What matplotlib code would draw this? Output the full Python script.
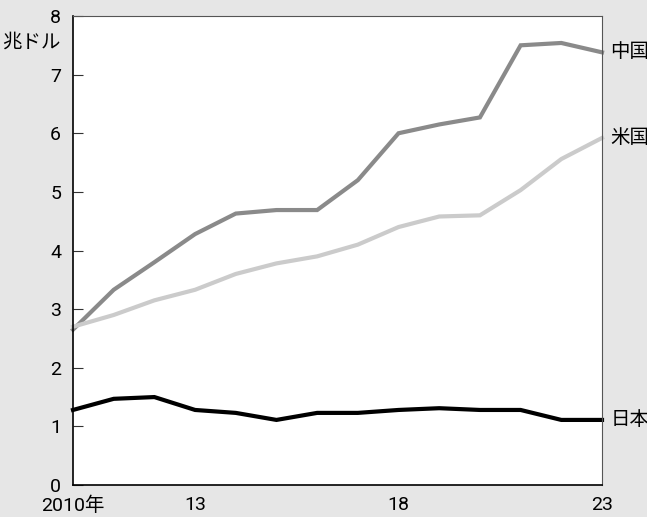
import matplotlib
matplotlib.use("Agg")
import matplotlib.pyplot as plt

plt.rcParams['font.family'] = ['Roboto', 'Noto Sans CJK JP', 'DejaVu Sans']

years = list(range(2010, 2024))
china = [2.65, 3.33, 3.80, 4.28, 4.63, 4.69, 4.69, 5.20, 6.00, 6.15, 6.27, 7.50, 7.54, 7.38]
usa = [2.70, 2.90, 3.15, 3.33, 3.60, 3.78, 3.90, 4.10, 4.40, 4.58, 4.60, 5.03, 5.56, 5.92]
japan = [1.28, 1.47, 1.50, 1.28, 1.23, 1.11, 1.23, 1.23, 1.28, 1.31, 1.28, 1.28, 1.11, 1.11]

series_names = ["中国", "米国", "日本"]
series_values = [china, usa, japan]
series_colors = ["#8a8a8a", "#cbcbcb", "#000000"]

xticks = [2010, 2013, 2018, 2023]
xtick_labels = ["2010年", "13", "18", "23"]
yticks = list(range(0, 9))

bg = "#e6e6e6"
fs = 14
fig = plt.figure(figsize=(6.47, 5.17), dpi=100, facecolor=bg)
ax = fig.add_axes([73 / 647, 1 - 485 / 517, (602 - 73) / 647, (485 - 16) / 517])
ax.set_facecolor("white")

for vals, col in zip(series_values, series_colors):
    ax.plot(years, vals, color=col, lw=3.0, solid_joinstyle="miter", clip_on=False)

ax.set_xlim(2010, 2023)
ax.set_ylim(0, 8)
ax.set_xticks(xticks)
ax.set_xticklabels(xtick_labels)
ax.set_yticks(yticks)
ax.tick_params(axis="x", length=0, pad=8, labelsize=fs)
ax.tick_params(axis="y", direction="in", length=7, width=0.8, color="#333333", pad=8.5, labelsize=fs)

for s in ("left", "bottom"):
    ax.spines[s].set_color("black")
    ax.spines[s].set_linewidth(1.2)
for s in ("top", "right"):
    ax.spines[s].set_color("#555555")
    ax.spines[s].set_linewidth(0.8)

for name, vals in zip(series_names, series_values):
    ax.annotate(name, xy=(years[-1], vals[-1]), xytext=(6, 0), textcoords="offset points",
                va="center", ha="left", fontsize=fs, annotation_clip=False)

fig.text(61 / 647, 1 - 43 / 517, "兆ドル", ha="right", va="center", fontsize=fs)

fig.savefig("out.png", dpi=100, facecolor=bg)
